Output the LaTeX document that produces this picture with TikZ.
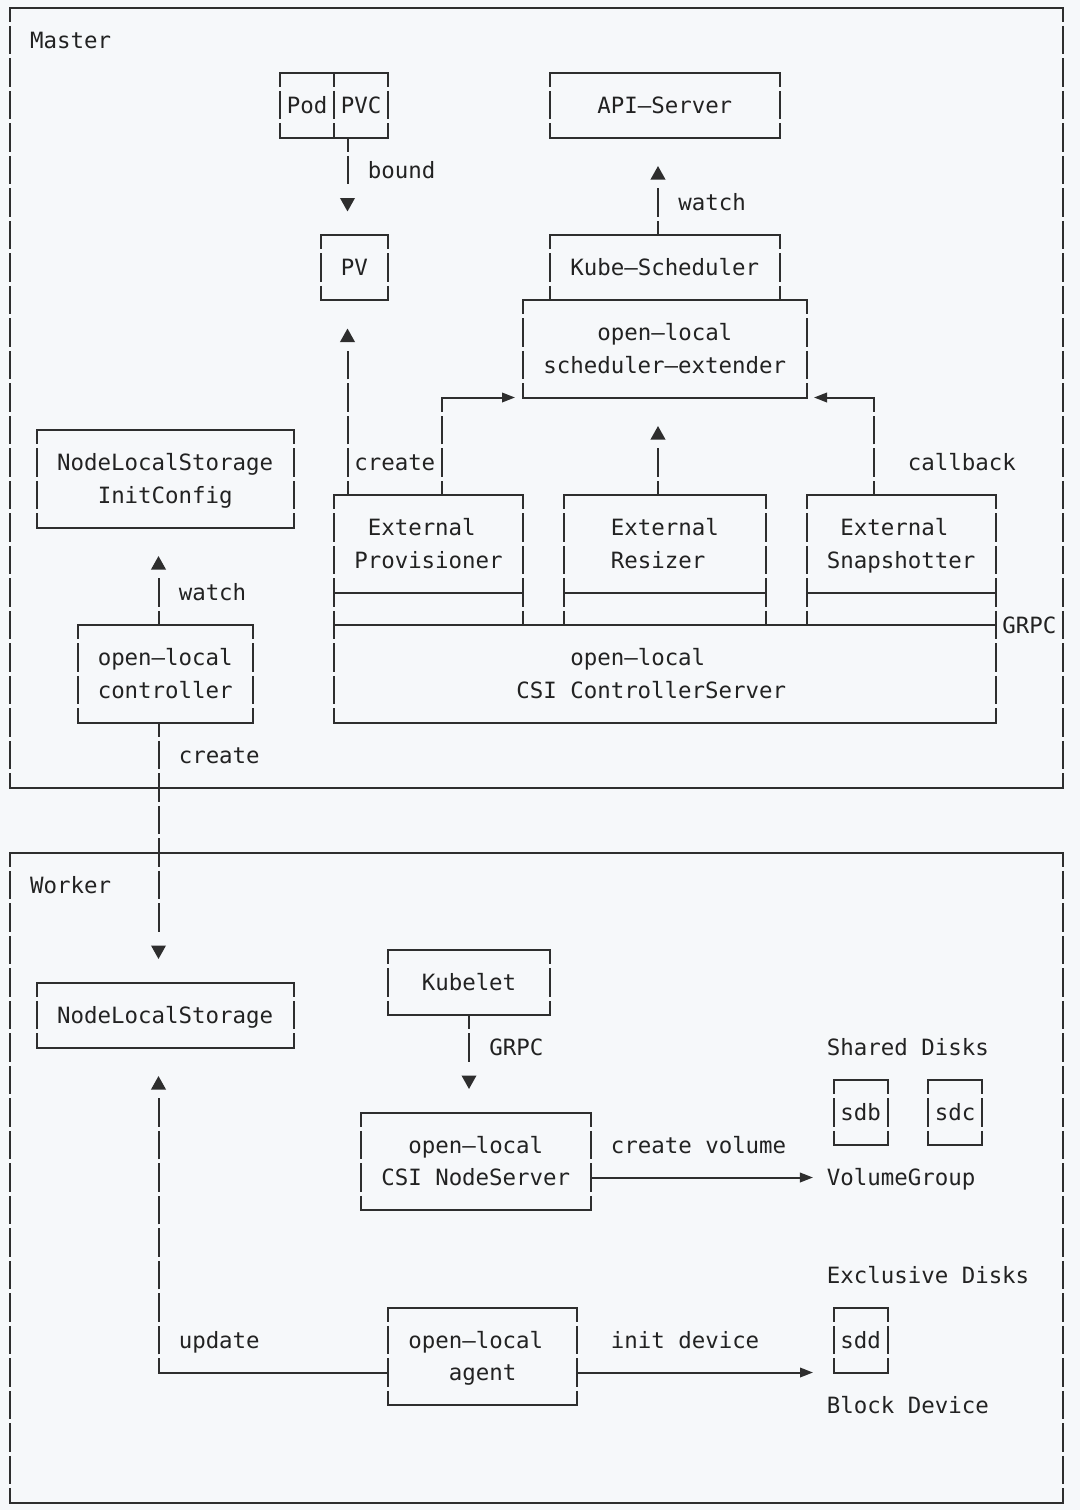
\documentclass[tikz,border=0pt]{standalone}
\usepackage{fontspec}
\newfontfamily\dmono{DejaVu Sans Mono}
\usetikzlibrary{arrows.meta,decorations.markings}
\definecolor{bg}{HTML}{F6F8FA}
\definecolor{lc}{HTML}{2E2E2E}
\definecolor{tc}{HTML}{222222}
\def\cw{6.75pt}
\def\rh{16.25pt}
% box: name, col1, row1, col2, row2
\newcommand\mybox[5]{%
  \node[boxnode, minimum width={(#4-#2)*6.75pt}, minimum height={(#5-#3)*16.25pt}] (#1) at ({(#2+#4)/2},{(#3+#5)/2}) {};
  \draw[hl] (#1.north west) -- (#1.north east) (#1.south west) -- (#1.south east);
  \draw[vl] (#1.north west) -- (#1.south west);
  \draw[vl] (#1.north east) -- (#1.south east);
}
% text: name, col, row, text
\newcommand\mytxt[4]{\node[txt] (#1) at ({#2-0.5},{#3+0.255}) {#4};}
\tikzset{
  hl/.style={draw=lc, line width=1pt, line cap=rect},
  vl/.style={draw=lc, line width=1pt, dash pattern=on 14.25pt off 2pt, dash phase=7.125pt},
  boxnode/.style={inner sep=0pt, outer sep=0pt, draw=none},
  txt/.style={inner sep=0pt, outer sep=0pt, anchor=base west, text=tc,
    font={\dmono\fontsize{11.212pt}{13pt}\selectfont}},
  % the head stands apart from the end of the dashed line, as in the picture
  uparr/.style={shorten >=24.25pt, postaction={decorate}, decoration={markings,
    mark=at position -14.25pt with {\pgfsetdash{}{0pt}\arrow[lc]{Triangle[length=6.75pt,width=7.25pt]}}}},
  downarr/.style={shorten >=24.25pt, postaction={decorate}, decoration={markings,
    mark=at position -11.75pt with {\pgfsetdash{}{0pt}\arrow[lc]{Triangle[length=6.75pt,width=7.25pt]}}}},
  harr/.style={-{Triangle[length=6.5pt,width=4.75pt]}},
}
\begin{document}
\begin{tikzpicture}[x=6.75pt,y=-16.25pt]
\fill[bg] (-0.74074,-0.23077) rectangle (79.25926,46.23077);
\useasboundingbox (-0.74074,-0.23077) rectangle (79.25926,46.23077);

% frames
\mybox{master}{0}{0}{78}{24}
\mybox{worker}{0}{26}{78}{46}

% master boxes
\mybox{pod}{20}{2}{24}{4}
\mybox{pvc}{24}{2}{28}{4}
\mybox{api}{40}{2}{57}{4}
\mybox{pv}{23}{7}{28}{9}
\mybox{kube}{40}{7}{57}{9}
\mybox{ext}{38}{9}{59}{12}
\mybox{init}{2}{13}{21}{16}
\mybox{prov}{24}{15}{38}{18}
\mybox{res}{41}{15}{56}{18}
\mybox{snap}{59}{15}{73}{18}
\mybox{csi}{24}{19}{73}{22}
\mybox{ctrl}{5}{19}{18}{22}

% legs of external boxes down to CSI box
\draw[vl] (prov.south west) -- (prov.south west |- csi.north);
\draw[vl] (prov.south east) -- (prov.south east |- csi.north);
\draw[vl] (res.south west) -- (res.south west |- csi.north);
\draw[vl] (res.south east) -- (res.south east |- csi.north);
\draw[vl] (snap.south west) -- (snap.south west |- csi.north);
\draw[vl] (snap.south east) -- (snap.south east |- csi.north);

% worker boxes
\mybox{kubelet}{28}{29}{40}{31}
\mybox{nls}{2}{30}{21}{32}
\mybox{ns}{26}{34}{43}{37}
\mybox{sdb}{61}{33}{65}{35}
\mybox{sdc}{68}{33}{72}{35}
\mybox{agent}{28}{40}{42}{43}
\mybox{sdd}{61}{40}{65}{42}

% texts
\mytxt{tmaster}{2}{1}{Master}
\mytxt{tworker}{2}{27}{Worker}
\mytxt{tpod}{21}{3}{Pod}
\mytxt{tpvc}{25}{3}{PVC}
\mytxt{tbound}{27}{5}{bound}
\mytxt{tapi}{44}{3}{API–Server}
\mytxt{twatch1}{50}{6}{watch}
\mytxt{tpv}{25}{8}{PV}
\mytxt{tkube}{42}{8}{Kube–Scheduler}
\mytxt{text1}{44}{10}{open–local}
\mytxt{text2}{40}{11}{scheduler–extender}
\mytxt{tinit1}{4}{14}{NodeLocalStorage}
\mytxt{tinit2}{7}{15}{InitConfig}
\mytxt{tcreate1}{26}{14}{create}
\mytxt{tcallback}{67}{14}{callback}
\mytxt{tprov1}{27}{16}{External}
\mytxt{tprov2}{26}{17}{Provisioner}
\mytxt{tres1}{45}{16}{External}
\mytxt{tres2}{45}{17}{Resizer}
\mytxt{tsnap1}{62}{16}{External}
\mytxt{tsnap2}{61}{17}{Snapshotter}
\mytxt{twatch2}{13}{18}{watch}
\mytxt{tgrpc1}{74}{19}{GRPC}
\mytxt{tctrl1}{7}{20}{open–local}
\mytxt{tctrl2}{7}{21}{controller}
\mytxt{tcsi1}{42}{20}{open–local}
\mytxt{tcsi2}{38}{21}{CSI ControllerServer}
\mytxt{tcreate2}{13}{23}{create}
\mytxt{tkubelet}{31}{30}{Kubelet}
\mytxt{tnls}{4}{31}{NodeLocalStorage}
\mytxt{tgrpc2}{36}{32}{GRPC}
\mytxt{tshared}{61}{32}{Shared Disks}
\mytxt{tsdb}{62}{34}{sdb}
\mytxt{tsdc}{69}{34}{sdc}
\mytxt{tns1}{30}{35}{open–local}
\mytxt{tcv}{45}{35}{create volume}
\mytxt{tns2}{28}{36}{CSI NodeServer}
\mytxt{tvg}{61}{36}{VolumeGroup}
\mytxt{texcl}{61}{39}{Exclusive Disks}
\mytxt{tupdate}{13}{41}{update}
\mytxt{tag1}{30}{41}{open–local}
\mytxt{tinitdev}{45}{41}{init device}
\mytxt{tsdd}{62}{41}{sdd}
\mytxt{tag2}{33}{42}{agent}
\mytxt{tblock}{61}{43}{Block Device}

% free ends of horizontal arrows
\coordinate (vgin) at (59.48,36);

% connectors
\draw[vl,downarr] ([xshift=\cw]pvc.south west) -- ([xshift=2*\cw]pv.north west);
\draw[vl,uparr] ([xshift=-0.5*\cw]kube.north) -- ([xshift=8*\cw]api.south west);
\draw[vl,uparr] ([xshift=\cw]prov.north west) -- ([xshift=2*\cw]pv.south west);

\coordinate (pc) at ([xshift=8*\cw]prov.north west);
\coordinate (pcorner) at (pc |- ext.south);
\draw[vl] (pc) -- (pcorner);
\draw[hl,harr,shorten >=4pt] (pcorner) -- (ext.south west);

\draw[vl,uparr] ([xshift=-0.5*\cw]res.north) -- ([xshift=10*\cw]ext.south west);

\coordinate (sc) at ([xshift=5*\cw]snap.north west);
\coordinate (scorner) at (sc |- ext.south);
\draw[vl] (sc) -- (scorner);
\draw[hl,harr,shorten >=3.75pt] (scorner) -- (ext.south east);

\draw[vl,uparr] ([xshift=-0.5*\cw]ctrl.north) -- ([xshift=9*\cw]init.south west);
\draw[vl,downarr] ([xshift=-0.5*\cw]ctrl.south) -- ([xshift=9*\cw]nls.north west);

\draw[vl,downarr] (kubelet.south) -- ([xshift=8*\cw]ns.north west);
\draw[hl,harr] ([yshift=-0.5*\rh]ns.east) -- (vgin);

\coordinate (ac) at ([xshift=-17*\cw,yshift=-0.5*\rh]agent.west);
\draw[hl] ([yshift=-0.5*\rh]agent.west) -- (ac);
\draw[vl,uparr] (ac) -- ([xshift=9*\cw]nls.south west);
\draw[hl,harr,shorten >=10.25pt] ([yshift=-0.5*\rh]agent.east) -- (sdd.south west);
\end{tikzpicture}
\end{document}
